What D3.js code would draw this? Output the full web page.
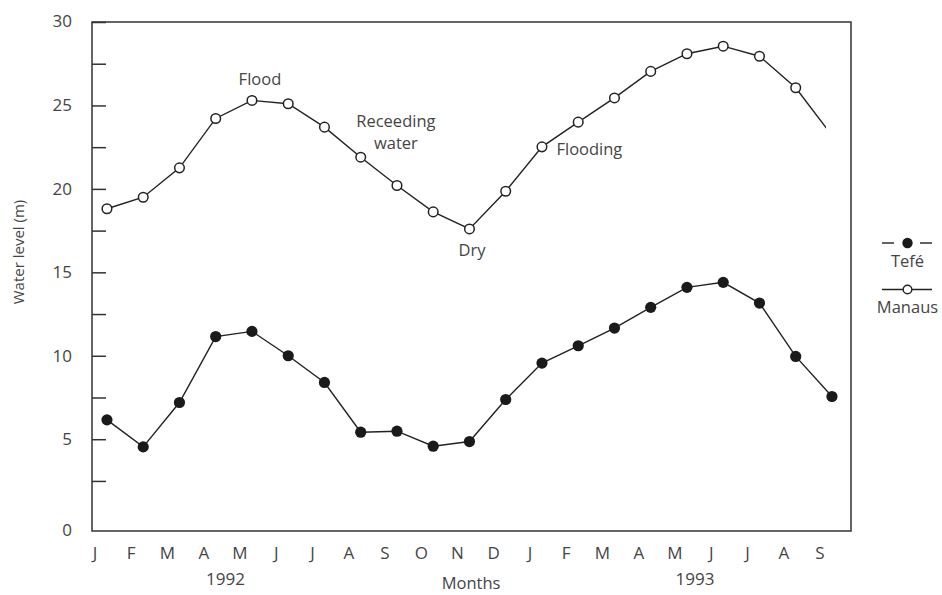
<!DOCTYPE html>
<html>
<head>
<meta charset="utf-8">
<script src="https://cdn.jsdelivr.net/npm/d3@7"></script>
<style>
  html, body { margin: 0; padding: 0; background: #fff; }
  svg text { font-family: "Open Sans", "Noto Sans", sans-serif; fill: #454545; }
</style>
</head>
<body>
<svg id="chart" width="942" height="595"></svg>
<script>
// Monthly water level, Jan 1992 – Sep 1993
const monthLabels = ["J","F","M","A","M","J","J","A","S","O","N","D",
                     "J","F","M","A","M","J","J","A","S"];
const yearLabels = ["1992", "1993"];
const tefeLevel = [6.16, 4.54, 7.2, 11.15, 11.46, 10.0, 8.4, 5.42, 5.48, 4.58, 4.86,
                   7.38, 9.56, 10.6, 11.66, 12.9, 14.1, 14.4, 13.16, 9.96, 7.56];
const manausLevel = [18.81, 19.5, 21.26, 24.22, 25.3, 25.1, 23.7, 21.9, 20.2, 18.62, 17.6,
                     19.86, 22.52, 24.0, 25.45, 27.04, 28.1, 28.55, 27.95, 26.06, 23.2];
const yTickLabels = [0, 5, 10, 15, 20, 25, 30];
const annotations = [
  { lines: ["Flood"], month: 4.55, level: 26.6, anchor: "middle" },
  { lines: ["Receeding", "water"], month: 8.3, level: 24.05, anchor: "middle" },
  { lines: ["Dry"], month: 10.4, level: 16.3, anchor: "middle" },
  { lines: ["Flooding"], month: 12.73, level: 22.4, anchor: "start" }
];

const svg = d3.select("#chart");
const frame = { left: 92, top: 22, right: 851, bottom: 531 };

// month index -> x (labels sit at the month index, readings a third later)
const x = d3.scaleLinear().domain([0, 20]).range([95, 820]);
const pointOffset = 0.33;
const y = d3.scaleLinear().domain([-0.5, 30]).range([frame.bottom, frame.top]);

// plot frame
svg.append("rect")
  .attr("x", frame.left).attr("y", frame.top)
  .attr("width", frame.right - frame.left).attr("height", frame.bottom - frame.top)
  .attr("fill", "none").attr("stroke", "#333").attr("stroke-width", 1.5);

// y axis: inward ticks every 2.5 m, labels every 5 m
const yAxis = d3.axisLeft(y)
  .tickValues(d3.range(2.5, 30.01, 2.5))
  .tickSizeInner(-14).tickSizeOuter(0).tickPadding(20)
  .tickFormat(d => (d % 5 === 0 && d < 30) ? d : "");
const gy = svg.append("g").attr("transform", `translate(${frame.left},0)`).call(yAxis);
gy.select(".domain").remove();
gy.selectAll(".tick line").attr("stroke", "#333").attr("stroke-width", 1.5);
gy.selectAll(".tick text").style("font-size", "17px").attr("fill", "#454545");

// top ("30") and bottom ("0") labels sit on the frame edges
svg.append("g").selectAll("text")
  .data(yTickLabels.filter(v => v === 0 || v === 30))
  .join("text")
  .attr("x", frame.left - 20)
  .attr("y", d => d === 0 ? y.range()[0] : y(d))
  .attr("dy", "0.32em")
  .attr("text-anchor", "end")
  .style("font-size", "17px")
  .text(d => d);

svg.append("text")
  .attr("transform", "translate(19,252) rotate(-90)")
  .attr("text-anchor", "middle").attr("dy", "0.35em")
  .style("font-size", "15px")
  .text("Water level (m)");

// month labels
svg.append("g").selectAll("text")
  .data(monthLabels)
  .join("text")
  .attr("x", (d, i) => x(i))
  .attr("y", 553).attr("dy", "0.35em")
  .attr("text-anchor", "middle")
  .style("font-size", "17px")
  .text(d => d);

const yearMonth = [3.6, 16.55];
svg.append("g").selectAll("text")
  .data(yearLabels)
  .join("text")
  .attr("x", (d, i) => x(yearMonth[i]))
  .attr("y", 579).attr("dy", "0.35em")
  .attr("text-anchor", "middle")
  .style("font-size", "17px")
  .text(d => d);

svg.append("text")
  .attr("x", 471).attr("y", 589)
  .attr("text-anchor", "middle")
  .style("font-size", "16.5px")
  .text("Months");

// series
const line = d3.line()
  .x((d, i) => x(i + pointOffset))
  .y(d => y(d));

svg.append("clipPath").attr("id", "manausClip")
  .append("rect").attr("x", 0).attr("y", 0).attr("width", 826).attr("height", 595);

svg.append("path")
  .datum(manausLevel)
  .attr("d", line)
  .attr("clip-path", "url(#manausClip)")
  .attr("fill", "none").attr("stroke", "#222").attr("stroke-width", 1.4);

svg.append("path")
  .datum(tefeLevel)
  .attr("d", line)
  .attr("fill", "none").attr("stroke", "#222").attr("stroke-width", 1.4);

svg.append("g").selectAll("circle")
  .data(manausLevel.slice(0, manausLevel.length - 1))
  .join("circle")
  .attr("cx", (d, i) => x(i + pointOffset))
  .attr("cy", d => y(d))
  .attr("r", 4.8)
  .attr("fill", "#fff").attr("stroke", "#222").attr("stroke-width", 1.5);

svg.append("g").selectAll("circle")
  .data(tefeLevel)
  .join("circle")
  .attr("cx", (d, i) => x(i + pointOffset))
  .attr("cy", d => y(d))
  .attr("r", 5.6)
  .attr("fill", "#1a1a1a");

// phase annotations
annotations.forEach(a => {
  const t = svg.append("text")
    .attr("x", x(a.month))
    .attr("y", y(a.level))
    .attr("text-anchor", a.anchor)
    .style("font-size", "16.5px");
  a.lines.forEach((s, k) => {
    t.append("tspan").attr("x", x(a.month)).attr("dy", k === 0 ? "0.35em" : "1.35em").text(s);
  });
});

// legend
const legend = svg.append("g");
const lx0 = 882, lx1 = 932, lxm = 907.5;
legend.append("line").attr("x1", lx0).attr("x2", 894).attr("y1", 243).attr("y2", 243)
  .attr("stroke", "#222").attr("stroke-width", 1.4);
legend.append("line").attr("x1", 920).attr("x2", lx1).attr("y1", 243).attr("y2", 243)
  .attr("stroke", "#222").attr("stroke-width", 1.4);
legend.append("circle").attr("cx", lxm).attr("cy", 243).attr("r", 5.2).attr("fill", "#1a1a1a");
legend.append("text").attr("x", lxm).attr("y", 261).attr("dy", "0.35em")
  .attr("text-anchor", "middle").style("font-size", "16.5px").text("Tefé");

legend.append("line").attr("x1", lx0).attr("x2", lx1).attr("y1", 289.5).attr("y2", 289.5)
  .attr("stroke", "#222").attr("stroke-width", 1.4);
legend.append("circle").attr("cx", lxm).attr("cy", 289.5).attr("r", 4.3)
  .attr("fill", "#fff").attr("stroke", "#222").attr("stroke-width", 1.4);
legend.append("text").attr("x", lxm).attr("y", 307.5).attr("dy", "0.35em")
  .attr("text-anchor", "middle").style("font-size", "16.5px").text("Manaus");
</script>
</body>
</html>
